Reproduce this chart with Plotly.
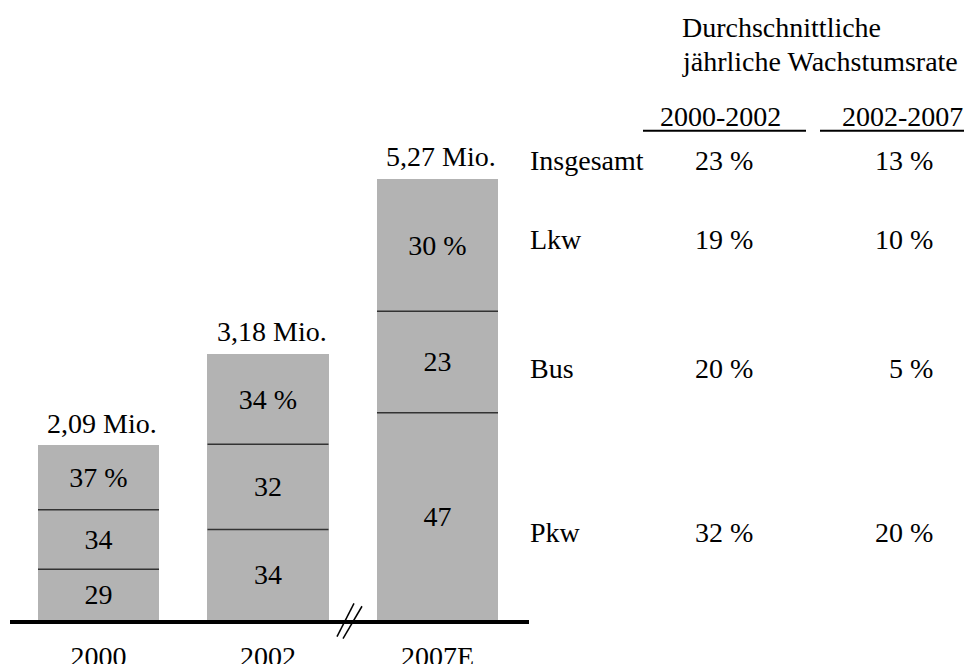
import plotly.graph_objects as go

# ---------------- data ----------------
years = ["2000", "2002", "2007E"]
totals = [2.09, 3.18, 5.27]                       # Mio. vehicles
total_labels = ["2,09 Mio.", "3,18 Mio.", "5,27 Mio."]
segments = ["Pkw", "Bus", "Lkw"]                   # bottom -> top
pkw_share = [29, 34, 47]
bus_share = [34, 32, 23]
lkw_share = [37, 34, 30]
share_labels_top_suffix = " %"

growth_title = ["Durchschnittliche", "jährliche Wachstumsrate"]
growth_periods = ["2000-2002", "2002-2007"]
growth_rows = ["Insgesamt", "Lkw", "Bus", "Pkw"]
growth_2000_2002 = [23, 19, 20, 32]
growth_2002_2007 = [13, 10, 5, 20]

# ---------------- styling / layout constants ----------------
W, H = 972, 664
OFFX, OFFY = 8, 8          # page offset of the plot div (body margin)
BASE = 631                 # screen pixel row of the baseline
PLOT_BOTTOM = BASE - OFFY  # same row inside the figure
FONT = "Liberation Serif, Times New Roman, serif"
FS = 28
BAR_COLOR = "#b3b3b3"
BAR_W = 0.714
X0_PIX, DX_PIX = 98.5, 169.5   # screen pixel of first category and spacing
Y_SCALE = 85.2                 # pixels per Mio.


def px(x):
    return (x - OFFX) / W


def py(y):
    return (BASE - y) / PLOT_BOTTOM


def xdata(pix):
    return (pix - X0_PIX) / DX_PIX


xs = list(range(len(years)))
shares = {"Pkw": pkw_share, "Bus": bus_share, "Lkw": lkw_share}

fig = go.Figure()

for seg in segments:
    vals = [t * s / 100 for t, s in zip(totals, shares[seg])]
    if seg == segments[-1]:
        txt = [f"{s}{share_labels_top_suffix}" for s in shares[seg]]
    else:
        txt = [str(s) for s in shares[seg]]
    fig.add_trace(go.Bar(
        x=xs, y=vals, name=seg, width=BAR_W,
        marker=dict(color=BAR_COLOR, line=dict(width=0)),
        text=txt, textposition="inside", insidetextanchor="middle",
        textangle=0,
        textfont=dict(family=FONT, size=FS, color="black"),
        hoverinfo="skip",
    ))

shapes = []
# separator lines between segments
for i, t in enumerate(totals):
    cum = 0.0
    for seg in segments[:-1]:
        cum += t * shares[seg][i] / 100
        shapes.append(dict(type="line", xref="x", yref="y",
                           x0=i - BAR_W / 2, x1=i + BAR_W / 2, y0=cum, y1=cum,
                           line=dict(color="#333333", width=1.5)))

# axis break marks (between 2002 and 2007E)
for (xa, ya, xb, yb) in [(337, 648, 354, 614), (343, 650, 362, 617)]:
    shapes.append(dict(type="line", xref="paper", yref="paper",
                       x0=px(xa), y0=py(ya), x1=px(xb), y1=py(yb),
                       line=dict(color="black", width=1.5)))

# underlines of the period headers
for (xa, xb) in [(643, 806), (820, 972)]:
    shapes.append(dict(type="line", xref="paper", yref="paper",
                       x0=px(xa), x1=px(xb), y0=py(133), y1=py(133),
                       line=dict(color="black", width=2)))

annotations = []
# totals above bars
for i, (t, lab) in enumerate(zip(totals, total_labels)):
    annotations.append(dict(x=i + BAR_W / 2, y=t, xref="x", yref="y",
                            text=lab, showarrow=False, xanchor="right",
                            yanchor="middle", yshift=22,
                            font=dict(family=FONT, size=FS, color="black")))


def label(txt, x, y, anchor):
    annotations.append(dict(x=px(x), y=py(y), xref="paper", yref="paper",
                            text=txt, showarrow=False, xanchor=anchor,
                            yanchor="middle",
                            font=dict(family=FONT, size=FS, color="black")))


# growth table title
for txt, yy in zip(growth_title, [28, 62]):
    label(txt, 680, yy, "left")

# period headers
for txt, xx in zip(growth_periods, [720, 902]):
    label(txt, xx, 118, "center")

row_y = [163, 244, 375, 542]
for name, g1, g2, yy in zip(growth_rows, growth_2000_2002, growth_2002_2007, row_y):
    label(name, 528, yy, "left")
    label(f"{g1} %", 724, yy, "center")
    label(f"{g2} %", 935, yy, "right")

fig.update_layout(
    width=W, height=H,
    margin=dict(l=0, r=0, t=0, b=H - PLOT_BOTTOM, pad=0),
    barmode="stack",
    showlegend=False,
    plot_bgcolor="white", paper_bgcolor="white",
    shapes=shapes, annotations=annotations,
    xaxis=dict(domain=[px(10), px(529)],
               range=[xdata(10), xdata(529)],
               tickvals=xs, ticktext=years, ticks="",
               ticklabelstandoff=8,
               showline=True, linecolor="black", linewidth=4,
               showgrid=False, zeroline=False, fixedrange=True,
               tickfont=dict(family=FONT, size=FS, color="black")),
    yaxis=dict(range=[0, PLOT_BOTTOM / Y_SCALE], visible=False,
               showgrid=False, zeroline=False, fixedrange=True),
)

fig.write_html("out.html")
